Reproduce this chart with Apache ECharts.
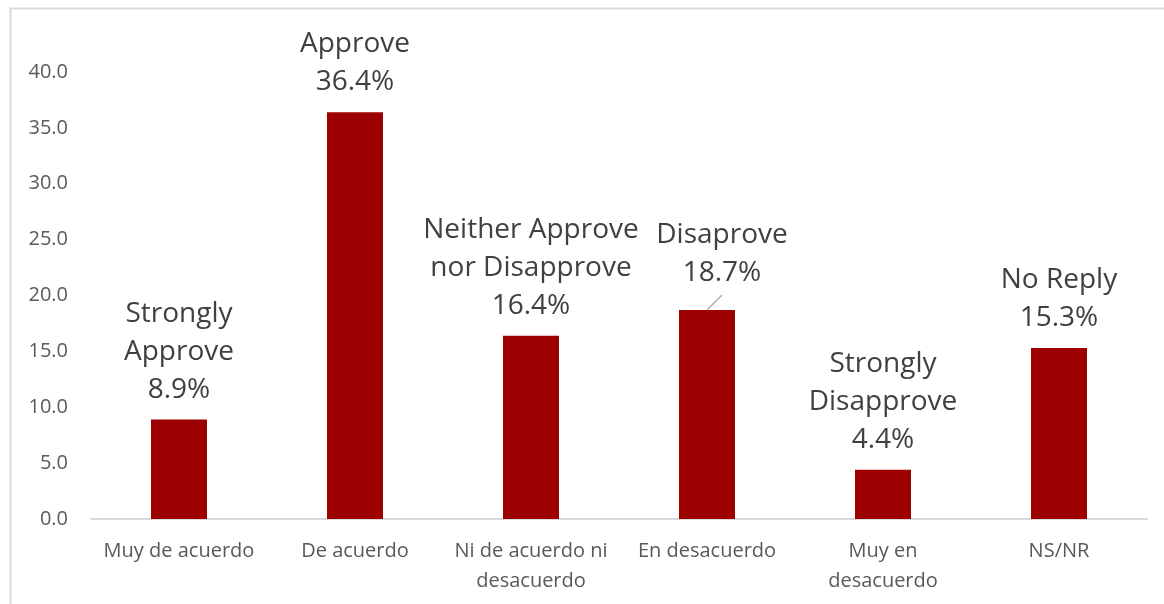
<!DOCTYPE html>
<html>
<head>
<meta charset="utf-8">
<script src="https://cdn.jsdelivr.net/npm/echarts@6/dist/echarts.min.js"></script>
<style>
  html, body { margin: 0; padding: 0; background: #ffffff; }
  #chart { width: 1164px; height: 604px; }
</style>
</head>
<body>
<div id="chart"></div>
<script>
// Survey answers (Spanish) and share of respondents, in percent
const categories = ['Muy de acuerdo', 'De acuerdo', 'Ni de acuerdo ni\ndesacuerdo', 'En desacuerdo', 'Muy en\ndesacuerdo', 'NS/NR'];
const values = [8.9, 36.4, 16.4, 18.7, 4.4, 15.3];
// English caption written above each bar
const captions = ['Strongly\nApprove', 'Approve', 'Neither Approve\nnor Disapprove', 'Disaprove', 'Strongly\nDisapprove', 'No Reply'];
const yTicks = [0, 5, 10, 15, 20, 25, 30, 35, 40];
// the one caption that is nudged aside and tied back to its bar
const shiftedIndex = 3;
const shift = { dx: 15, dy: -7 };

const FONT = '"Open Sans", Lato, sans-serif';
const chart = echarts.init(document.getElementById('chart'));

const frame = {
  type: 'rect',
  z: -10,
  shape: { x: 10.5, y: 8.5, width: 1200, height: 700 },
  style: { fill: '#ffffff', stroke: '#d9d9d9', lineWidth: 2 }
};

chart.setOption({
  backgroundColor: '#ffffff',
  animation: false,
  title: {
    text: 'Degree of public approval of the president\u2019s performance',
    left: 96,
    top: -30,
    textStyle: { fontFamily: FONT, fontWeight: 'bold', fontSize: 24, color: '#000000' }
  },
  graphic: [frame],
  grid: { left: 91, right: 17, top: 72, bottom: 85 },
  xAxis: {
    type: 'category',
    data: categories,
    axisLine: { lineStyle: { color: '#d9d9d9', width: 2 } },
    axisTick: { show: false },
    axisLabel: {
      interval: 0,
      fontFamily: FONT,
      fontSize: 20,
      lineHeight: 30,
      color: '#595959',
      margin: 17
    }
  },
  yAxis: {
    type: 'value',
    min: yTicks[0],
    max: yTicks[yTicks.length - 1],
    interval: 5,
    splitLine: { show: false },
    axisLine: { show: false },
    axisTick: { show: false },
    axisLabel: {
      fontFamily: FONT,
      fontSize: 20,
      color: '#595959',
      margin: 23,
      formatter: v => v.toFixed(1)
    }
  },
  series: [{
    type: 'bar',
    data: values,
    barWidth: 56,
    itemStyle: { color: '#9c0000' },
    label: {
      show: true,
      position: 'top',
      distance: 11,
      fontFamily: FONT,
      fontSize: 28,
      lineHeight: 38,
      color: '#404040',
      align: 'center',
      formatter: p => captions[p.dataIndex] + '\n' + values[p.dataIndex].toFixed(1) + '%'
    },
    labelLayout: p => (p.dataIndex === shiftedIndex ? shift : {})
  }]
});

// leader line from the top of the shifted bar towards its caption
const barTop = chart.convertToPixel({ seriesIndex: 0 }, [shiftedIndex, values[shiftedIndex]]);
chart.setOption({
  graphic: [frame, {
    type: 'line',
    z: 10,
    shape: { x1: barTop[0], y1: barTop[1], x2: barTop[0] + shift.dx, y2: barTop[1] - 15 },
    style: { stroke: '#a6a6a6', lineWidth: 1.3 }
  }]
});
</script>
</body>
</html>
